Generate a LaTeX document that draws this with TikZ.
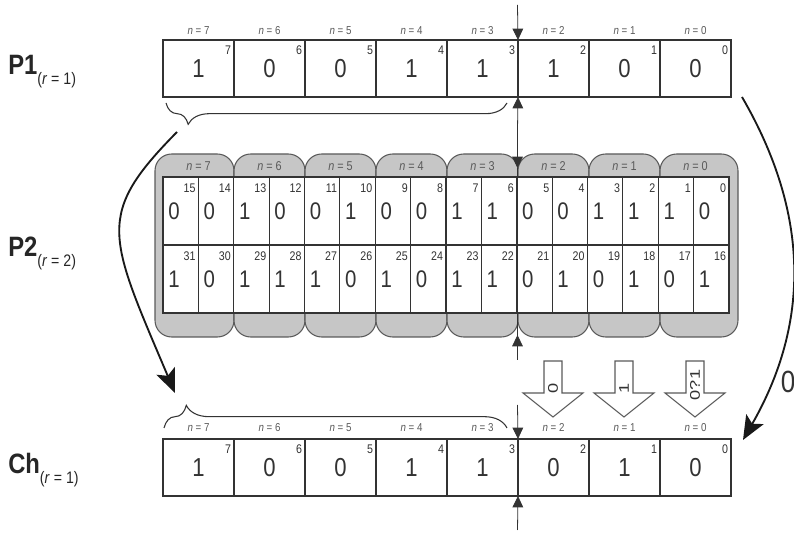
\documentclass[tikz,border=0pt]{standalone}
\usepackage{fontspec}
\setmainfont{Liberation Sans}[FakeStretch=0.85]
\newfontfamily\tallfont{Liberation Sans}[FakeStretch=1.3]
\usetikzlibrary{arrows.meta, decorations.pathreplacing, calc}

\definecolor{ink}{HTML}{333333}
\definecolor{soft}{HTML}{5A5A5A}
\definecolor{tabgray}{HTML}{C6C6C6}

\newcommand\sublab[1]{\raisebox{-7.5pt}{\fontsize{12.5}{14}\selectfont\mdseries(\textit{r} = #1)}}

\begin{document}
\begin{tikzpicture}[x=0.75pt, y=-0.75pt,
  cell/.style={draw=ink, line width=0.9pt, fill=white, inner sep=0pt, outer sep=0pt,
               minimum width=71*0.75pt, minimum height=57*0.75pt, anchor=north west},
  scell/.style={cell, minimum width=35.375*0.75pt, minimum height=68*0.75pt},
  bit/.style={font=\fontsize{19.5}{21}\selectfont, text=ink, inner sep=0pt},
  sbit/.style={font=\fontsize{18}{19}\selectfont, text=ink, inner sep=0pt, anchor=west},
  idx/.style={font=\fontsize{9.4}{10}\selectfont, text=ink, inner sep=0.5pt, anchor=north east},
  nlab/.style={font=\fontsize{8.6}{9}\selectfont, text=soft, inner sep=0pt},
  rowlab/.style={font=\fontsize{21}{24}\selectfont\bfseries, text=black!85, inner sep=0pt, anchor=base west},
  grp/.style={draw=soft, line width=0.8pt, fill=tabgray, rounded corners=12.5pt},
  brc/.style={decorate, draw=ink, line width=0.8pt},
  cutarr/.style={draw=ink, line width=0.6pt, -{Triangle[length=8.5pt, width=8pt]}},
  swing/.style={draw=black!90, line width=1.4pt, -{Stealth[length=18pt, width=15pt, inset=4pt]}},
  barr/.style={draw=soft, line width=0.8pt, fill=white}
]
\useasboundingbox (0,0) rectangle (794,534);

% row labels
\node[rowlab] (lp1) at (8,75)  {P1\sublab{1}};
\node[rowlab] (lp2) at (8,257) {P2\sublab{2}};
\node[rowlab] (lch) at (8,474) {Ch\sublab{1}};

% P2 tabs and grid
\foreach \n in {7,...,0} {
  \pgfmathsetmacro\l{\n==7 ? 155 : 163+71*(7-\n)}
  \pgfmathsetmacro\r{\n==0 ? 738 : 163+71*(8-\n)}
  \draw[grp] (\l,154) rectangle (\r,337);
  \node[nlab, font=\fontsize{9.6}{10}\selectfont] (gl\n) at ({163+71*(7-\n)+35.5},166) {\textit{n} = \n};
}
\foreach \i/\b [count=\c from 0] in {15/0,14/0,13/1,12/0,11/0,10/1,9/0,8/0,7/1,6/1,5/0,4/0,3/1,2/1,1/1,0/0} {
  \node[scell] (pa\i) at ({163+35.375*\c},177) {};
  \node[sbit] at ($(pa\i.west)+(5,0)$) {\b};
  \node[idx] at ($(pa\i.north east)+(-2,6)$) {\i};
}
\foreach \i/\b [count=\c from 0] in {31/1,30/0,29/1,28/1,27/1,26/0,25/1,24/0,23/1,22/1,21/0,20/1,19/0,18/1,17/0,16/1} {
  \node[scell] (pb\i) at ({163+35.375*\c},245) {};
  \node[sbit] at ($(pb\i.west)+(5,0)$) {\b};
  \node[idx] at ($(pb\i.north east)+(-2,6)$) {\i};
}

% P1 and Ch rows
\foreach \n/\b [count=\c from 0] in {7/1,6/0,5/0,4/1,3/1,2/1,1/0,0/0} {
  \node[cell] (p1c\n) at ({163+71*\c},40) {};
  \node[bit] at ($(p1c\n.center)+(0,0)$) {\b};
  \node[idx] at ($(p1c\n.north east)+(-2,5)$) {\n};
  \node[nlab] at ($(p1c\n.north)+(0,-9)$) {\textit{n} = \n};
}
\draw[draw=ink, line width=1.6pt] (p1c0.north west) rectangle (p1c0.south east);
\foreach \n/\b [count=\c from 0] in {7/1,6/0,5/0,4/1,3/1,2/0,1/1,0/0} {
  \node[cell] (chc\n) at ({163+71*\c},439) {};
  \node[bit] at (chc\n.center) {\b};
  \node[idx] at ($(chc\n.north east)+(-2,5)$) {\n};
  \node[nlab] at ($(chc\n.north)+(0,-11)$) {\textit{n} = \n};
}

% braces
\draw[brc, decoration={brace, mirror, amplitude=16pt, aspect=0.065}] (166,103) -- (507,103);
\draw[brc, decoration={brace, amplitude=17pt, aspect=0.065}] (164,428) -- (507,428);

% cut line
\coordinate (cx) at (517.5,0);
\draw[cutarr] (cx |- 0,5) -- (p1c3.north east);
\draw[cutarr] (cx |- 0,130) -- (p1c3.south east);
\draw[cutarr] (cx |- 0,130) -- (cx |- 0,168);
\draw[draw=ink, line width=0.6pt] (cx |- 0,168) -- (cx |- 0,336);
\draw[cutarr] (cx |- 0,360) -- (cx |- 0,335);
\draw[cutarr] (cx |- 0,405) -- (chc3.north east);
\draw[cutarr] (cx |- 0,530) -- (chc3.south east);

% block arrows
\foreach \cx/\t/\ty in {553/0/388, 624/1/388, 695/0?1/385} {
  \draw[barr] (\cx-9,361) -- (\cx+9,361) -- (\cx+9,393) -- (\cx+30,393)
    -- (\cx,417) -- (\cx-30,393) -- (\cx-9,393) -- cycle;
  \node[rotate=90, font=\tallfont\fontsize{10.5}{12}\selectfont, text=ink, inner sep=0pt]
    (bt\cx) at (\cx,\ty) {\t};
}

% curved arrows
\coordinate (lsrc) at (177,132);
\coordinate (ldst) at (175,393);
\coordinate (rsrc) at (742,97);
\coordinate (rdst) at (743,440);
\draw[swing] (lsrc) .. controls (95,215) and (108,235) .. (ldst);
\draw[swing] (rsrc) .. controls (810,214) and (810,323) .. (rdst);
\node[font=\fontsize{23}{26}\selectfont, text=ink, inner sep=0pt] (zero) at (788,382) {0};
\end{tikzpicture}
\end{document}
